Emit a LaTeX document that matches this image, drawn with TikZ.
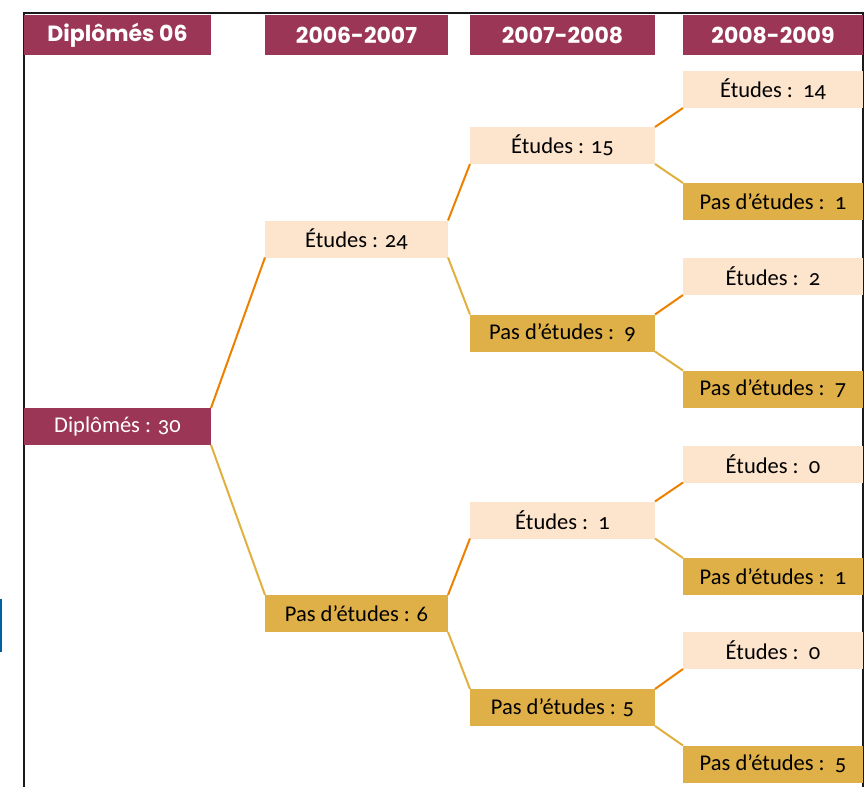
\documentclass[tikz,border=0pt]{standalone}
\usepackage{fontspec}
\setmainfont{Carlito}[Numbers=OldStyle]
\newfontfamily\headfont{Poppins}
\definecolor{plum}{HTML}{9B3657}
\definecolor{peach}{HTML}{FDE4CC}
\definecolor{gold}{HTML}{E0B048}
\definecolor{orangeline}{HTML}{EE8000}
\definecolor{goldline}{HTML}{E0B040}
\definecolor{bluemark}{HTML}{0060A0}
\begin{document}
\begin{tikzpicture}[x=1pt,y=-1pt,
  box/.style={rectangle,inner sep=0pt,outer sep=0pt,minimum height=37pt,font=\fontsize{22.5}{22.5}\selectfont},
  headbox/.style={rectangle,inner sep=0pt,outer sep=0pt,fill=plum,text=white,minimum height=40pt,font=\headfont\bfseries\fontsize{22}{22}\selectfont},
  purplebox/.style={box,fill=plum,text=white},
  studybox/.style={box,fill=peach,text=black},
  nostudybox/.style={box,fill=gold,text=black},
  wA/.style={minimum width=187pt},
  wB/.style={minimum width=183pt},
  wC/.style={minimum width=185pt},
  wD/.style={minimum width=180pt},
  upline/.style={draw=orangeline,line width=2pt},
  downline/.style={draw=goldline,line width=2pt},
  frameline/.style={draw=black!90,line width=2pt}
]
\useasboundingbox (0,0) rectangle (865,787);
% frame
\coordinate (fbl) at (24,787);
\coordinate (ftl) at (24,13);
\coordinate (ftr) at (863,13);
\coordinate (fbr) at (863,787);
\draw[frameline] (fbl) -- (ftl) -- (ftr) -- (fbr);
\fill[bluemark] (0,599) rectangle (2,652);
% headers
\node[headbox,wA] (h0) at (117.5,35) {Diplômés 06};
\node[headbox,wB] (h1) at (356.5,35) {2006-2007};
\node[headbox,wC] (h2) at (562.5,35) {2007-2008};
\node[headbox,wD] (h3) at (773,35) {2008-2009};
% level 0
\node[purplebox,wA] (d) at (117.5,426.5) {Diplômés : 30};
% level 1
\node[studybox,wB] (e) at (356.5,239) {Études : 24};
\node[nostudybox,wB] (p) at (356.5,613.5) {Pas d’études : 6};
% level 2
\node[studybox,wC] (ee) at (562.5,145.5) {Études : 15};
\node[nostudybox,wC] (ep) at (562.5,333) {Pas d’études :\hspace{0.45em}9};
\node[studybox,wC] (pe) at (562.5,520) {Études :\hspace{0.45em}1};
\node[nostudybox,wC] (pp) at (562.5,707.5) {Pas d’études : 5};
% level 3
\node[studybox,wD] (eee) at (773,89.5) {Études :\hspace{0.45em}14};
\node[nostudybox,wD] (eep) at (773,201.5) {Pas d’études :\hspace{0.45em}1};
\node[studybox,wD] (epe) at (773,276.5) {Études :\hspace{0.45em}2};
\node[nostudybox,wD] (epp) at (773,389) {Pas d’études :\hspace{0.45em}7};
\node[studybox,wD] (pee) at (773,464) {Études :\hspace{0.45em}0};
\node[nostudybox,wD] (pep) at (773,576.5) {Pas d’études :\hspace{0.45em}1};
\node[studybox,wD] (ppe) at (773,650.5) {Études :\hspace{0.45em}0};
\node[nostudybox,wD] (ppp) at (773,764) {Pas d’études :\hspace{0.45em}5};
% connectors
\foreach \a/\b/\c in {d/e/p, e/ee/ep, p/pe/pp, ee/eee/eep, ep/epe/epp, pe/pee/pep, pp/ppe/ppp}{
  \draw[upline] (\a.north east) -- (\b.south west);
  \draw[downline] (\a.south east) -- (\c.north west);
}
\end{tikzpicture}
\end{document}
